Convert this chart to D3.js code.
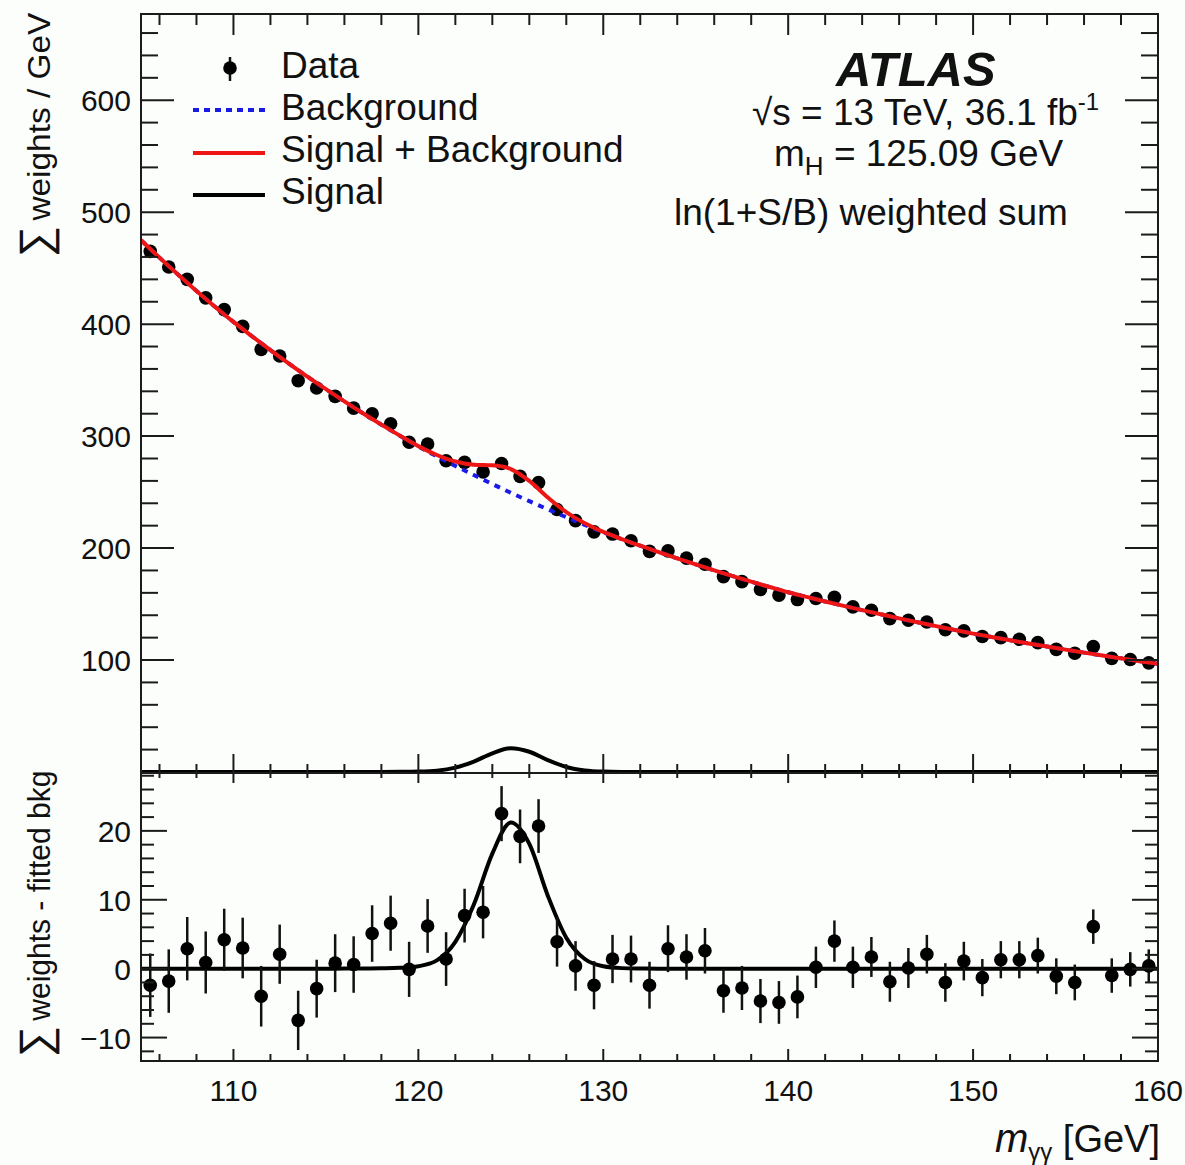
<!DOCTYPE html>
<html>
<head>
<meta charset="utf-8">
<script src="https://cdn.jsdelivr.net/npm/d3@7/dist/d3.min.js"></script>
<style>
  html, body { margin: 0; padding: 0; background: #fcfefc; }
  svg { display: block; }
  text { font-family: "Liberation Sans", Arial, Helvetica, sans-serif; fill: #111; }
</style>
</head>
<body>
<svg id="chart" width="1185" height="1165"></svg>
<script>
// Diphoton invariant mass bins [GeV]
const binCentres = [105.5, 106.5, 107.5, 108.5, 109.5, 110.5, 111.5, 112.5, 113.5, 114.5,
  115.5, 116.5, 117.5, 118.5, 119.5, 120.5, 121.5, 122.5, 123.5, 124.5,
  125.5, 126.5, 127.5, 128.5, 129.5, 130.5, 131.5, 132.5, 133.5, 134.5,
  135.5, 136.5, 137.5, 138.5, 139.5, 140.5, 141.5, 142.5, 143.5, 144.5,
  145.5, 146.5, 147.5, 148.5, 149.5, 150.5, 151.5, 152.5, 153.5, 154.5,
  155.5, 156.5, 157.5, 158.5, 159.5];

// ln(1+S/B) weighted sum per GeV
const weightedSum = [465, 451, 440, 423.5, 413, 398, 377.5, 371.5, 349.5, 343,
  335.5, 325, 320, 311, 294.5, 293, 278, 276.5, 268, 275.5,
  264, 258.5, 234.5, 224.5, 214.5, 212.5, 206.5, 197, 197.5, 191,
  185.5, 174.5, 170, 163, 158, 154, 155, 156, 147.5, 144.5,
  137, 135.5, 134, 127, 126, 121, 120, 118.5, 115.5, 109.5,
  106, 112, 101.5, 100.5, 97.5];

// weighted sum minus fitted background
const residual = [-2.4, -1.8, 2.9, 0.9, 4.2, 3.0, -4.0, 2.1, -7.5, -2.9,
  0.8, 0.6, 5.1, 6.6, -0.1, 6.2, 1.4, 7.7, 8.2, 22.5,
  19.2, 20.7, 3.9, 0.4, -2.4, 1.4, 1.4, -2.4, 2.9, 1.7,
  2.6, -3.2, -2.8, -4.7, -4.9, -4.1, 0.2, 4.0, 0.2, 1.7,
  -1.9, 0.1, 2.1, -2.0, 1.1, -1.3, 1.3, 1.3, 1.9, -1.1,
  -2.0, 6.1, -1.0, -0.1, 0.4];

// statistical uncertainty per bin
const binError = [4.6, 4.6, 4.6, 4.5, 4.5, 4.4, 4.4, 4.3, 4.3, 4.2,
  4.2, 4.1, 4.1, 4.0, 4.0, 3.9, 3.9, 3.9, 3.8, 4.0,
  3.9, 3.9, 3.6, 3.6, 3.5, 3.5, 3.4, 3.4, 3.4, 3.3,
  3.3, 3.2, 3.2, 3.2, 3.1, 3.1, 3.0, 3.0, 3.0, 2.9,
  2.9, 2.9, 2.8, 2.8, 2.8, 2.7, 2.7, 2.7, 2.6, 2.6,
  2.6, 2.5, 2.5, 2.5, 2.4];

// fitted shapes sampled every GeV
const curveMass = [105, 106, 107, 108, 109, 110, 111, 112, 113, 114,
  115, 116, 117, 118, 119, 120, 121, 122, 123, 124,
  125, 126, 127, 128, 129, 130, 131, 132, 133, 134,
  135, 136, 137, 138, 139, 140, 141, 142, 143, 144,
  145, 146, 147, 148, 149, 150, 151, 152, 153, 154,
  155, 156, 157, 158, 159, 160];

const backgroundFit = [475, 459.4, 444.3, 429.7, 415.6, 402, 389.2, 376.8, 364.8, 353.1,
  341.9, 331, 320.4, 310.2, 300.3, 290.7, 281.9, 273.4, 265.2, 257.2,
  249.4, 241.9, 234.6, 227.6, 220.7, 214.1, 208, 202.1, 196.4, 190.8,
  185.4, 180.1, 175, 170, 165.2, 160.5, 156.4, 152.3, 148.4, 144.6,
  140.9, 137.2, 133.7, 130.3, 126.9, 123.6, 120.6, 117.7, 114.8, 112,
  109.3, 106.6, 104, 101.5, 99, 96.6];

const signalFit = [0, 0, 0, 0, 0, 0, 0, 0, 0, 0,
  0, 0.01, 0.02, 0.05, 0.12, 0.35, 1.2, 3.9, 9.3, 16.7,
  21.2, 18.1, 10.6, 4.5, 1.4, 0.35, 0.08, 0.02, 0, 0,
  0, 0, 0, 0, 0, 0, 0, 0, 0, 0,
  0, 0, 0, 0, 0, 0, 0, 0, 0, 0,
  0, 0, 0, 0, 0, 0];

// axis ticks and labels
const xTickValues = [110, 120, 130, 140, 150, 160];
const xTickLabels = ["110", "120", "130", "140", "150", "160"];
const topYTickValues = [100, 200, 300, 400, 500, 600];
const topYTickLabels = ["100", "200", "300", "400", "500", "600"];
const botYTickValues = [-10, 0, 10, 20];
const botYTickLabels = ["\u221210", "0", "10", "20"];

const legendLabels = ["Data", "Background", "Signal + Background", "Signal"];

// ---------------------------------------------------------------
const svg = d3.select("#chart");
const L = 141, R = 1158, T = 14, MID = 773, B = 1061;
const AX = "#1b1b1b";
const RED = "#ee1515", BLUE = "#1a1ae6";

const x = d3.scaleLinear().domain([105, 160]).range([L, R]);
const yUpper = d3.scaleLinear().domain([-0.9, 677]).range([MID, T]);
const yLower = d3.scaleLinear().domain([-13.4, 28.4]).range([B, MID]);

const defs = svg.append("defs");
defs.append("clipPath").attr("id", "clipUpper").append("rect")
  .attr("x", L).attr("y", T).attr("width", R - L).attr("height", MID - T + 3);
defs.append("clipPath").attr("id", "clipLower").append("rect")
  .attr("x", L).attr("y", MID).attr("width", R - L).attr("height", B - MID);

const points = binCentres.map((m, i) => ({ m, v: weightedSum[i], r: residual[i], e: binError[i] }));
const fit = curveMass.map((m, i) => ({ m, b: backgroundFit[i], s: signalFit[i] }));

const xMinor = d3.range(106, 160, 2).filter(v => v % 10 !== 0);
const upperYMinor = d3.range(20, 677, 20).filter(v => v % 100 !== 0);
const lowerYMinor = d3.range(-12, 29, 2).filter(v => v % 10 !== 0);

// tick marks on all four sides of a panel
function panelTicks(yScale, yTopEdge, yBottomEdge, yMajor, yMinorVals, len) {
  const g = svg.append("g").attr("stroke", AX).attr("stroke-width", 2).attr("fill", "none");
  const seg = (cls, data, f) => g.selectAll("line." + cls).data(data).join("line").attr("class", cls).each(f);
  seg("yl", yMajor, function (d) { d3.select(this).attr("x1", L).attr("x2", L + len.yMaj).attr("y1", yScale(d)).attr("y2", yScale(d)); });
  seg("yr", yMajor, function (d) { d3.select(this).attr("x1", R).attr("x2", R - len.yMaj).attr("y1", yScale(d)).attr("y2", yScale(d)); });
  seg("ylm", yMinorVals, function (d) { d3.select(this).attr("x1", L).attr("x2", L + len.yMin).attr("y1", yScale(d)).attr("y2", yScale(d)); });
  seg("yrm", yMinorVals, function (d) { d3.select(this).attr("x1", R).attr("x2", R - len.yMin).attr("y1", yScale(d)).attr("y2", yScale(d)); });
  seg("xt", xTickValues, function (d) { d3.select(this).attr("x1", x(d)).attr("x2", x(d)).attr("y1", yTopEdge).attr("y2", yTopEdge + len.tMaj); });
  seg("xtm", xMinor, function (d) { d3.select(this).attr("x1", x(d)).attr("x2", x(d)).attr("y1", yTopEdge).attr("y2", yTopEdge + len.tMin); });
  seg("xb", xTickValues, function (d) { d3.select(this).attr("x1", x(d)).attr("x2", x(d)).attr("y1", yBottomEdge).attr("y2", yBottomEdge - len.bMaj); });
  seg("xbm", xMinor, function (d) { d3.select(this).attr("x1", x(d)).attr("x2", x(d)).attr("y1", yBottomEdge).attr("y2", yBottomEdge - len.bMin); });
}

// ---------------- upper panel ----------------
const upper = svg.append("g").attr("clip-path", "url(#clipUpper)");

// data with error bars
upper.selectAll("line.err").data(points).join("line").attr("class", "err")
  .attr("x1", d => x(d.m)).attr("x2", d => x(d.m))
  .attr("y1", d => yUpper(d.v - d.e)).attr("y2", d => yUpper(d.v + d.e))
  .attr("stroke", "#111").attr("stroke-width", 2.5);
upper.selectAll("circle").data(points).join("circle")
  .attr("cx", d => x(d.m)).attr("cy", d => yUpper(d.v)).attr("r", 6.8).attr("fill", "#000");

const bkgLine = d3.line().x(d => x(d.m)).y(d => yUpper(d.b)).curve(d3.curveMonotoneX);
const sbLine = d3.line().x(d => x(d.m)).y(d => yUpper(d.b + d.s)).curve(d3.curveMonotoneX);
const sigUpperLine = d3.line().x(d => x(d.m)).y(d => yUpper(d.s)).curve(d3.curveMonotoneX);

upper.append("path").datum(fit).attr("d", bkgLine).attr("fill", "none")
  .attr("stroke", BLUE).attr("stroke-width", 4).attr("stroke-dasharray", "6,6");
upper.append("path").datum(fit).attr("d", sbLine).attr("fill", "none")
  .attr("stroke", RED).attr("stroke-width", 4);
upper.append("path").datum(fit).attr("d", sigUpperLine).attr("fill", "none")
  .attr("stroke", "#000").attr("stroke-width", 4);

// ---------------- lower panel ----------------
const lower = svg.append("g").attr("clip-path", "url(#clipLower)");
const sigLowerLine = d3.line().x(d => x(d.m)).y(d => yLower(d.s)).curve(d3.curveMonotoneX);
lower.append("path").datum(fit).attr("d", sigLowerLine).attr("fill", "none")
  .attr("stroke", "#000").attr("stroke-width", 4);
lower.selectAll("line.err").data(points).join("line").attr("class", "err")
  .attr("x1", d => x(d.m)).attr("x2", d => x(d.m))
  .attr("y1", d => yLower(d.r - d.e)).attr("y2", d => yLower(d.r + d.e))
  .attr("stroke", "#111").attr("stroke-width", 2.5);
lower.selectAll("circle").data(points).join("circle")
  .attr("cx", d => x(d.m)).attr("cy", d => yLower(d.r)).attr("r", 6.8).attr("fill", "#000");

// ---------------- frames and ticks ----------------
svg.append("rect").attr("x", L).attr("y", T).attr("width", R - L).attr("height", MID - T)
  .attr("fill", "none").attr("stroke", AX).attr("stroke-width", 2);
svg.append("rect").attr("x", L).attr("y", MID).attr("width", R - L).attr("height", B - MID)
  .attr("fill", "none").attr("stroke", AX).attr("stroke-width", 2);

panelTicks(yUpper, T, MID, topYTickValues, upperYMinor, { yMaj: 33, yMin: 17, tMaj: 21, tMin: 11, bMaj: 19, bMin: 9 });
panelTicks(yLower, MID, B, botYTickValues, lowerYMinor, { yMaj: 26, yMin: 13, tMaj: 10, tMin: 5, bMaj: 12, bMin: 7 });

// tick labels
svg.append("g").selectAll("text").data(topYTickValues).join("text")
  .attr("x", 131).attr("y", d => yUpper(d) + 11).attr("text-anchor", "end")
  .attr("font-size", 30).text((d, i) => topYTickLabels[i]);
svg.append("g").selectAll("text").data(botYTickValues).join("text")
  .attr("x", 131).attr("y", d => yLower(d) + 11).attr("text-anchor", "end")
  .attr("font-size", 30).text((d, i) => botYTickLabels[i]);
svg.append("g").selectAll("text").data(xTickValues).join("text")
  .attr("x", d => x(d)).attr("y", 1101).attr("text-anchor", "middle")
  .attr("font-size", 30).text((d, i) => xTickLabels[i]);

// axis titles (rotated, reading upwards)
const yt1 = svg.append("text").attr("transform", "translate(50,257) rotate(-90)").attr("text-anchor", "start");
yt1.append("tspan").attr("font-size", 44).text("\u2211");
yt1.append("tspan").attr("font-size", 32).attr("dx", 5)
  .attr("textLength", 208).attr("lengthAdjust", "spacingAndGlyphs").text("weights / GeV");

const yt2 = svg.append("text").attr("transform", "translate(50,1057) rotate(-90)").attr("text-anchor", "start");
yt2.append("tspan").attr("font-size", 44).text("\u2211");
yt2.append("tspan").attr("font-size", 32).attr("dx", 5)
  .attr("textLength", 250).attr("lengthAdjust", "spacingAndGlyphs").text("weights - fitted bkg");

const xt = svg.append("text").attr("x", 1160).attr("y", 1152).attr("text-anchor", "end").attr("font-size", 38);
xt.append("tspan").attr("font-style", "italic").attr("font-size", 40).text("m");
xt.append("tspan").attr("font-size", 24).attr("dy", 8).text("\u03B3\u03B3");
xt.append("tspan").attr("dy", -8).text(" [GeV]");

// ---------------- legend ----------------
const leg = svg.append("g");
const legRows = [78, 120, 162, 204];
leg.selectAll("text").data(legendLabels).join("text")
  .attr("x", 281).attr("y", (d, i) => legRows[i]).attr("font-size", 37).text(d => d);
leg.append("line").attr("x1", 230).attr("x2", 230).attr("y1", 57).attr("y2", 81)
  .attr("stroke", "#111").attr("stroke-width", 2.5);
leg.append("circle").attr("cx", 230).attr("cy", 68).attr("r", 6.8).attr("fill", "#000");
leg.append("line").attr("x1", 193).attr("x2", 265).attr("y1", 110).attr("y2", 110)
  .attr("stroke", BLUE).attr("stroke-width", 4).attr("stroke-dasharray", "6,5");
leg.append("line").attr("x1", 193).attr("x2", 265).attr("y1", 153).attr("y2", 153)
  .attr("stroke", RED).attr("stroke-width", 4);
leg.append("line").attr("x1", 193).attr("x2", 265).attr("y1", 195).attr("y2", 195)
  .attr("stroke", "#000").attr("stroke-width", 4);

// ---------------- experiment labels ----------------
svg.append("text").attr("x", 836).attr("y", 86).attr("font-size", 49)
  .attr("font-weight", "bold").attr("font-style", "italic").text("ATLAS");
const l2 = svg.append("text").attr("x", 752).attr("y", 125).attr("font-size", 37);
l2.append("tspan").text("\u221As = 13 TeV, 36.1 fb");
l2.append("tspan").attr("font-size", 24).attr("dy", -15).text("-1");
const l3 = svg.append("text").attr("x", 774).attr("y", 166).attr("font-size", 37);
l3.append("tspan").text("m");
l3.append("tspan").attr("font-size", 26).attr("dy", 9).text("H");
l3.append("tspan").attr("dy", -9).text(" = 125.09 GeV");
svg.append("text").attr("x", 674).attr("y", 225).attr("font-size", 37).text("ln(1+S/B) weighted sum");
</script>
</body>
</html>
